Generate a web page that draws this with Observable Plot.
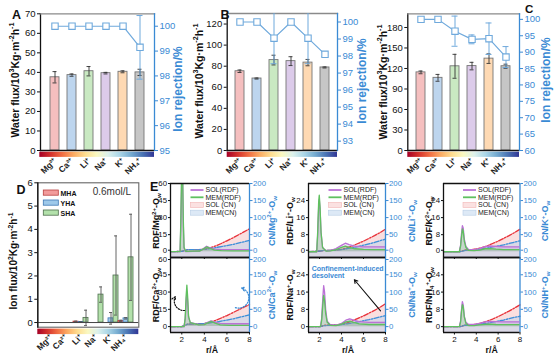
<!DOCTYPE html>
<html><head><meta charset="utf-8">
<script src="https://cdn.jsdelivr.net/npm/d3@7"></script>
<script src="https://cdn.jsdelivr.net/npm/@observablehq/plot@0.6"></script>
<style>
html,body{margin:0;padding:0;background:#fff;}
#root{position:relative;width:554px;height:356px;overflow:hidden;background:#fff;}
#root svg{position:absolute;max-width:none;}
</style></head><body><div id="root"></div>
<script>
// ---------------- data ----------------
const ions = ["Mg²⁺","Ca²⁺","Li⁺","Na⁺","K⁺","NH₄⁺"];
// panel A
const fluxA = [37.5, 38.6, 40.6, 39.6, 40.3, 40.0];
const fluxErrA = [2.9, 0.6, 2.4, 0.4, 0.5, 1.6];
const rejA = [100, 100, 100, 100, 100, 99.15];
const rejErrA = [0, 0, 0, 0, 0, 1.28];
const leftTicksA = [0, 10, 20, 30, 40, 50, 60, 70];
const rightTicksA = [95, 96, 97, 98, 99, 100];
// panel B
const fluxB = [75.2, 68.3, 85.8, 84.8, 83.4, 78.8];
const fluxErrB = [1.2, 0.5, 4.6, 4.2, 3.0, 0.5];
const rejB = [100, 100, 99.05, 100, 99.05, 98.1];
const rejErrB = [0, 0, 1.5, 0, 1.5, 0.12];
const leftTicksB = [0, 20, 40, 60, 80, 100, 120];
const rightTicksB = [93, 94, 95, 96, 97, 98, 99, 100];
// panel C
const fluxC = [114.3, 106.3, 123.2, 123.5, 134.4, 123.3];
const fluxErrC = [2.0, 5.0, 17.5, 5.5, 7.0, 3.0];
const rejC = [100, 100, 96.4, 93.9, 94.1, 88.5];
const rejErrC = [0, 0, 4.6, 1.35, 4.8, 3.2];
const leftTicksC = [0, 30, 60, 90, 120, 150, 180];
const rightTicksC = [60, 65, 70, 75, 80, 85, 90, 95, 100];
// panel D
const fluxGroups = ["MHA", "YHA", "SHA"];
const ionFluxMHA = [0, 0, 0.04, 0, 0, 0.07];
const ionFluxErrMHA = [0, 0, 0.02, 0, 0, 0.03];
const ionFluxYHA = [0, 0, 0.02, 0, 0.18, 0.18];
const ionFluxErrYHA = [0, 0, 0.01, 0, 0.25, 0.03];
const ionFluxSHA = [0, 0, 0.2, 1.2, 2.02, 2.8];
const ionFluxErrSHA = [0, 0, 0.33, 0.33, 1.7, 1.85];
const ticksD = [0, 1, 2, 3, 4, 5, 6];
// panel E : RDF curves (r in Å)
const rdfR_Mg = [1, 1.85, 1.92, 1.98, 2.03, 2.08, 2.13, 2.2, 2.35, 3.0, 3.6, 3.9, 4.2, 4.5, 4.9, 5.5, 6.5, 8];
const rdfSol_Mg = [0, 0, 25, 58, 72, 60, 25, 3, 0, 0.2, 0.6, 2.5, 4.8, 3.5, 2.3, 1.9, 1.8, 1.8];
const rdfMem_Mg = [0, 0, 30, 66, 80, 66, 30, 4, 0.3, 0.5, 0.6, 2.3, 4.2, 3, 1.4, 0.9, 0.8, 0.8];
const rdfR_Ca = [1, 2.2, 2.3, 2.38, 2.45, 2.52, 2.6, 2.75, 3.0, 3.5, 4.0, 4.3, 4.6, 4.95, 5.4, 6.2, 7, 8];
const rdfSol_Ca = [0, 0, 6, 20, 30, 22, 8, 3.5, 3, 1.8, 2, 3.8, 5, 3.8, 2.8, 2.5, 2.5, 2.5];
const rdfMem_Ca = [0, 0, 7, 25, 36, 26, 9, 3.5, 2.8, 1.5, 1.8, 3.3, 4.5, 3, 1.6, 1.1, 1, 1];
const rdfR_Li = [1, 1.75, 1.84, 1.92, 1.98, 2.05, 2.14, 2.28, 2.6, 3.0, 3.5, 4.0, 4.35, 4.7, 5.2, 6, 7, 8];
const rdfSol_Li = [0, 0, 8, 20, 24.5, 20, 9, 2, 0.3, 0.5, 1.5, 3, 4, 3.3, 2.6, 2.3, 2.3, 2.3];
const rdfMem_Li = [0, 0, 10, 23, 26.5, 21, 9, 2, 0.3, 0.4, 1, 2, 2.6, 2.1, 1.4, 1.1, 1, 1];
const rdfR_Na = [1, 2.1, 2.2, 2.3, 2.38, 2.46, 2.56, 2.7, 3.0, 3.5, 4.0, 4.4, 4.75, 5.1, 5.6, 6.5, 7.3, 8];
const rdfSol_Na = [0, 0, 4, 13, 19, 16, 8, 2.5, 0.8, 0.6, 1.5, 3, 3.6, 3, 2.3, 2, 2, 2];
const rdfMem_Na = [0, 0, 3, 10, 14.5, 12, 6, 2, 0.6, 0.5, 1.2, 2.2, 2.6, 2, 1.3, 1, 1, 1];
const rdfR_K = [1, 2.45, 2.56, 2.65, 2.73, 2.81, 2.9, 3.05, 3.3, 3.8, 4.3, 4.8, 5.2, 5.8, 6.5, 7.2, 8];
const rdfSol_K = [0, 0, 3, 8.5, 12.2, 11, 6, 2.5, 1, 1, 1.5, 2.4, 2.7, 2.5, 2.3, 2.3, 2.3];
const rdfMem_K = [0, 0, 2.5, 7, 10.7, 9.5, 5, 2, 0.6, 0.5, 0.8, 1.4, 1.5, 1.2, 1, 1, 1];
const rdfR_NH4 = [1, 2.45, 2.56, 2.65, 2.73, 2.81, 2.9, 3.05, 3.3, 3.8, 4.3, 4.8, 5.2, 5.8, 6.5, 7.2, 8];
const rdfSol_NH4 = [0, 0, 2.5, 8, 11.6, 10, 5, 2, 1, 1, 1.5, 2.2, 2.4, 2.3, 2.2, 2.2, 2.2];
const rdfMem_NH4 = [0, 0, 2, 7, 10.2, 9, 4.5, 1.5, 0.5, 0.5, 0.8, 1.1, 1.2, 1, 0.9, 0.9, 0.9];
// panel E : coordination numbers
const cnR = [1, 2, 2.5, 3, 3.5, 4, 4.5, 5, 5.5, 6, 6.5, 7, 7.5, 8];
const cnSol_Mg = [0, 1, 6, 6, 6, 7, 11, 17, 24, 32, 40, 49, 58, 67];
const cnMem_Mg = [0, 1, 6, 6, 6, 7, 9, 12, 15, 18, 21, 25, 29, 33];
const cnSol_Ca = [0, 0, 7, 8, 8, 9, 12, 18, 25, 32, 40, 48, 56, 64];
const cnMem_Ca = [0, 0, 7, 8, 8, 9, 11, 13, 16, 19, 22, 26, 30, 34];
const cnSol_Li = [0, 2, 4, 4, 5, 7, 11, 17, 24, 31, 39, 47, 56, 66];
const cnMem_Li = [0, 2, 4, 4, 5, 6, 9, 12, 15, 19, 23, 27, 32, 37];
const cnSol_Na = [0, 0, 4, 5, 5, 7, 11, 17, 24, 31, 39, 47, 56, 66];
const cnMem_Na = [0, 0, 3, 4, 4, 6, 8, 11, 14, 17, 20, 24, 28, 32];
const cnSol_K = [0, 0, 0, 5, 6, 8, 12, 17, 24, 31, 39, 47, 56, 66];
const cnMem_K = [0, 0, 0, 4, 5, 6, 8, 11, 14, 17, 20, 24, 28, 32];
const cnSol_NH4 = [0, 0, 0, 4, 5, 7, 11, 16, 22, 29, 37, 45, 54, 63];
const cnMem_NH4 = [0, 0, 0, 4, 4, 6, 8, 10, 13, 16, 19, 23, 27, 30];
const cnTicks = [0, 50, 100, 150, 200];
const rTicks = [2, 4, 6, 8];
const rdfTicksBig = [0, 15, 30, 45, 60];
const rdfTicksSmall = [0, 8, 16, 24];

// ---------------- styles ----------------
const FONT = "'Liberation Sans', Arial, Helvetica, sans-serif";
const BLUE = "#3a8ad4";
const LBLUE = "#6fa9dc";
const fmtInt = d3.format("d");
const barFill = ["#f5bfbf", "#bdd5ee", "#c9e9c2", "#dccbea", "#fed9b3", "#c6c6c6"];
const groupFill = {MHA: "#f08a8a", YHA: "#8dbfe6", SHA: "#a6dc9c"};
const groupStroke = {MHA: "#b94040", YHA: "#3f78b4", SHA: "#4d6e4d"};
const C_SOLRDF = "#bb72d6", C_MEMRDF = "#5fc05f", C_SOLCN = "#e8323a", C_MEMCN = "#3f8fd8";
const F_SOL = "#f4b8b8", F_MEM = "#b9d2ee";
const svgStyle = `background:transparent;overflow:visible;max-width:none;font-family:${FONT};`;

const root = document.getElementById("root");
function place(svg, left, top) {
  svg.style.position = "absolute";
  svg.style.left = left + "px";
  svg.style.top = top + "px";
  root.appendChild(svg);
}

// ---------------- panels A-C ----------------
function fluxPanel(cfg) {
  const rows = ions.map((ion, i) => ({ion, v: cfg.flux[i], e: cfg.fluxErr[i], c: barFill[i]}));
  const rrows = ions.map((ion, i) => ({ion, v: cfg.rej[i], e: cfg.rejErr[i]}));
  const errRows = rrows.filter(d => d.e > 0);
  const dims = {width: cfg.w, height: cfg.h, marginLeft: cfg.ml, marginRight: cfg.mr, marginTop: cfg.mt, marginBottom: cfg.mb, style: svgStyle};
  const p1 = Plot.plot({...dims,
    x: {domain: ions, padding: 0.45, axis: null},
    y: {domain: [0, cfg.ymax], axis: null},
    marks: [
      Plot.barY(rows, {x: "ion", y: "v", fill: "c", stroke: "#757575", strokeWidth: 0.9}),
      Plot.ruleX(rows, {x: "ion", y1: d => d.v - d.e, y2: d => d.v + d.e, stroke: "#333", strokeWidth: 0.9}),
      Plot.tickY(rows, {x: "ion", y: d => d.v + d.e, stroke: "#333", strokeWidth: 0.9, insetLeft: 2.5, insetRight: 2.5}),
      Plot.tickY(rows, {x: "ion", y: d => d.v - d.e, stroke: "#333", strokeWidth: 0.9, insetLeft: 2.5, insetRight: 2.5}),
      Plot.ruleY([0], {stroke: "#111", strokeWidth: 1.3}),
      Plot.frame({anchor: "left", stroke: "#111", strokeWidth: 1.3}),
      Plot.frame({anchor: "top", stroke: "#8a8a8a", strokeWidth: 1.3}),
      Plot.axisY({ticks: cfg.lticks, tickFormat: fmtInt, tickSize: 3, tickPadding: 2, fontSize: 9.5, label: null, stroke: "#111", fill: "#111"}),
      Plot.axisX({tickRotate: -45, tickSize: 0, tickPadding: 9, fontSize: 8.5, fontWeight: "bold", label: null, fill: "#222"})
    ]});
  place(p1, cfg.left, cfg.top);
  const p2 = Plot.plot({...dims,
    x: {domain: ions, padding: 0.45, axis: null},
    y: {domain: cfg.rdom, axis: null},
    marks: [
      Plot.frame({anchor: "right", stroke: BLUE, strokeWidth: 1.3}),
      Plot.axisY({anchor: "right", ticks: cfg.rticks, tickFormat: fmtInt, tickSize: 3, tickPadding: 2, fontSize: 9.5, label: null, stroke: BLUE, fill: BLUE}),
      Plot.line(rrows, {x: "ion", y: "v", stroke: LBLUE, strokeWidth: 1.2, clip: true}),
      Plot.ruleX(errRows, {x: "ion", y1: d => d.v - d.e, y2: d => d.v + d.e, stroke: LBLUE, strokeWidth: 1, clip: true}),
      Plot.tickY(errRows, {x: "ion", y: d => d.v + d.e, stroke: LBLUE, strokeWidth: 1, insetLeft: 1.5, insetRight: 1.5, clip: true}),
      Plot.tickY(errRows, {x: "ion", y: d => d.v - d.e, stroke: LBLUE, strokeWidth: 1, insetLeft: 1.5, insetRight: 1.5, clip: true}),
      Plot.dot(rrows, {x: "ion", y: "v", symbol: "square", r: 3.6, fill: "white", stroke: LBLUE, strokeWidth: 1.1})
    ]});
  place(p2, cfg.left, cfg.top);
}

fluxPanel({left: 0, top: 0, w: 185, h: 185, ml: 40, mr: 31, mt: 13.3, mb: 35,
  flux: fluxA, fluxErr: fluxErrA, rej: rejA, rejErr: rejErrA, ymax: 70, lticks: leftTicksA, rdom: [95, 100.5], rticks: rightTicksA});
fluxPanel({left: 185, top: 0, w: 185, h: 185, ml: 41.7, mr: 33, mt: 13, mb: 35,
  flux: fluxB, fluxErr: fluxErrB, rej: rejB, rejErr: rejErrB, ymax: 130, lticks: leftTicksB, rdom: [92.45, 100.5], rticks: rightTicksB});
fluxPanel({left: 370, top: 0, w: 184, h: 185, ml: 37.3, mr: 35, mt: 13.3, mb: 35,
  flux: fluxC, fluxErr: fluxErrC, rej: rejC, rejErr: rejErrC, ymax: 200, lticks: leftTicksC, rdom: [60, 101.7], rticks: rightTicksC});

// ---------------- panel D ----------------
{
  const series = [[ionFluxMHA, ionFluxErrMHA], [ionFluxYHA, ionFluxErrYHA], [ionFluxSHA, ionFluxErrSHA]];
  const dRows = [];
  ions.forEach((ion, i) => series.forEach(([vals, errs], g) =>
    dRows.push({key: ion + "|" + fluxGroups[g], ion, g: fluxGroups[g], v: vals[i], e: errs[i]})));
  const keys = dRows.map(d => d.key);
  const eRows = dRows.filter(d => d.e > 0);
  const pd = Plot.plot({width: 150, height: 181, marginLeft: 37.3, marginRight: 11.7, marginTop: 7.3, marginBottom: 29.3, style: svgStyle,
    x: {domain: keys, padding: 0.04, axis: null},
    y: {domain: [-0.2, 6], axis: null},
    marks: [
      Plot.barY(dRows.filter(d => d.v > 0), {x: "key", y: "v", fill: d => groupFill[d.g], stroke: d => groupStroke[d.g], strokeWidth: 0.8, fillOpacity: 0.85}),
      Plot.ruleX(eRows, {x: "key", y1: d => d.v - d.e, y2: d => d.v + d.e, stroke: "#555", strokeWidth: 0.9}),
      Plot.tickY(eRows, {x: "key", y: d => d.v + d.e, stroke: "#555", strokeWidth: 0.9, insetLeft: 1, insetRight: 1}),
      Plot.tickY(eRows, {x: "key", y: d => d.v - d.e, stroke: "#555", strokeWidth: 0.9, insetLeft: 1, insetRight: 1}),
      Plot.ruleY([0], {stroke: "#444", strokeWidth: 1}),
      Plot.frame({stroke: "#666", strokeWidth: 1.1}),
      Plot.frame({anchor: "left", stroke: "#111", strokeWidth: 1.3}),
      Plot.axisY({ticks: ticksD, tickFormat: fmtInt, tickSize: 3, tickPadding: 2, fontSize: 9.5, label: null, stroke: "#111", fill: "#111"}),
      Plot.axisX({ticks: ions.map(i => i + "|YHA"), tickFormat: d => d.split("|")[0], tickRotate: -45, tickSize: 0, tickPadding: 9,
        fontSize: 8.5, fontWeight: "bold", label: null, fill: "#222"})
    ]});
  place(pd, 0, 175);
}

// ---------------- panel E ----------------
const eCols = [[170, 249], [308, 385], [442.5, 519]];
const eRowsY = [[183, 257], [257, 332]];
const eSpecs = [
  {r: rdfR_Mg, sol: rdfSol_Mg, mem: rdfMem_Mg, cs: cnSol_Mg, cm: cnMem_Mg, col: 0, row: 0, dom: [-5.1, 60], ticks: rdfTicksBig},
  {r: rdfR_Li, sol: rdfSol_Li, mem: rdfMem_Li, cs: cnSol_Li, cm: cnMem_Li, col: 1, row: 0, dom: [-2.7, 32], ticks: rdfTicksSmall},
  {r: rdfR_K, sol: rdfSol_K, mem: rdfMem_K, cs: cnSol_K, cm: cnMem_K, col: 2, row: 0, dom: [-2.7, 32], ticks: rdfTicksSmall},
  {r: rdfR_Ca, sol: rdfSol_Ca, mem: rdfMem_Ca, cs: cnSol_Ca, cm: cnMem_Ca, col: 0, row: 1, dom: [-5.1, 60], ticks: rdfTicksBig, ca: true},
  {r: rdfR_Na, sol: rdfSol_Na, mem: rdfMem_Na, cs: cnSol_Na, cm: cnMem_Na, col: 1, row: 1, dom: [-2.7, 32], ticks: rdfTicksSmall, na: true},
  {r: rdfR_NH4, sol: rdfSol_NH4, mem: rdfMem_NH4, cs: cnSol_NH4, cm: cnMem_NH4, col: 2, row: 1, dom: [-2.7, 32], ticks: rdfTicksSmall}
];
const CN_DOM = [-17, 200];
// y axis split so that the label sitting on a shared panel edge is nudged off it
function splitAxisY(ticks, domTop, row, opts) {
  const edge = row === 0 ? ticks.filter(t => t === 0) : ticks.filter(t => t >= domTop);
  const rest = ticks.filter(t => !edge.includes(t));
  const marks = [Plot.axisY({...opts, ticks: rest})];
  if (edge.length) marks.push(Plot.axisY({...opts, ticks: edge, dy: row === 0 ? -1.5 : 2}));
  return marks;
}
for (const s of eSpecs) {
  const [x0, x1] = eCols[s.col], [y0, y1] = eRowsY[s.row];
  const ML = 20, MR = 26, MT = 5, MB = 16;
  const dims = {width: x1 - x0 + ML + MR, height: y1 - y0 + MT + MB, marginLeft: ML, marginRight: MR, marginTop: MT, marginBottom: MB, style: svgStyle};
  const cnSol = cnR.map((r, i) => ({r, v: s.cs[i]}));
  const cnMem = cnR.map((r, i) => ({r, v: s.cm[i]}));
  const cnMarks = [
    Plot.areaY(cnSol, {x: "r", y1: CN_DOM[0], y2: "v", fill: F_SOL, fillOpacity: 0.45}),
    Plot.areaY(cnMem, {x: "r", y1: CN_DOM[0], y2: "v", fill: F_MEM, fillOpacity: 0.5}),
    Plot.line(cnSol, {x: "r", y: "v", stroke: C_SOLCN, strokeWidth: 1.3, strokeDasharray: "5,1.5,1.5,1.5"}),
    Plot.line(cnMem, {x: "r", y: "v", stroke: C_MEMCN, strokeWidth: 1.3, strokeDasharray: "5,1.5,1.5,1.5"}),
    Plot.ruleX([8], {stroke: BLUE, strokeWidth: 1.3}),
    ...splitAxisY(cnTicks, CN_DOM[1], s.row, {anchor: "right", tickFormat: fmtInt, tickSize: 2.5, tickPadding: 1, fontSize: 7.8, label: null, stroke: BLUE, fill: BLUE})
  ];
  if (s.ca) {
    cnMarks.push(Plot.arrow([{x1: 6.75, y1: 55, x2: 7.3, y2: 112}], {x1: "x1", y1: "y1", x2: "x2", y2: "y2", bend: -90,
      stroke: BLUE, strokeWidth: 1.2, strokeDasharray: "1.2,1.5", headLength: 5}));
  }
  const pc = Plot.plot({...dims, x: {domain: [1, 8], axis: null}, y: {domain: CN_DOM, axis: null}, marks: cnMarks});
  place(pc, x0 - ML, y0 - MT);

  const sol = s.r.map((r, i) => ({r, v: s.sol[i]}));
  const mem = s.r.map((r, i) => ({r, v: s.mem[i]}));
  const rMarks = [
    Plot.areaY(sol, {x: "r", y: "v", fill: C_SOLRDF, fillOpacity: 0.22, clip: true}),
    Plot.areaY(mem, {x: "r", y: "v", fill: C_MEMRDF, fillOpacity: 0.28, clip: true}),
    Plot.line(sol, {x: "r", y: "v", stroke: C_SOLRDF, strokeWidth: 1.3, clip: true}),
    Plot.line(mem, {x: "r", y: "v", stroke: C_MEMRDF, strokeWidth: 1.3, clip: true}),
    Plot.ruleX([1], {stroke: "#111", strokeWidth: 1.3}),
    Plot.ruleY([s.dom[0]], {stroke: "#111", strokeWidth: 1.3}),
    Plot.ruleY([s.dom[1]], {stroke: "#111", strokeWidth: 1.3}),
    ...splitAxisY(s.ticks, s.dom[1], s.row, {tickFormat: fmtInt, tickSize: 2, tickPadding: 1.5, fontSize: 7.8, label: null, stroke: "#111", fill: "#111"}),
    s.row === 1
      ? Plot.axisX({ticks: rTicks, tickFormat: fmtInt, tickSize: 2.5, tickPadding: 1.5, fontSize: 8, label: null, stroke: "#111", fill: "#111"})
      : Plot.axisX({ticks: rTicks, tickSize: 2, tickFormat: () => "", label: null, stroke: "#111"})
  ];
  if (s.ca) {
    rMarks.push(Plot.arrow([{x1: 2.25, y1: 14, x2: 1.42, y2: 26}], {x1: "x1", y1: "y1", x2: "x2", y2: "y2", bend: 60,
      stroke: "#111", strokeWidth: 1.2, strokeDasharray: "1.2,1.5", headLength: 5}));
  }
  if (s.na) {
    rMarks.push(Plot.arrow([{x1: 7.55, y1: 7.3, x2: 5.17, y2: 21.7}], {x1: "x1", y1: "y1", x2: "x2", y2: "y2",
      stroke: "#111", strokeWidth: 1.1, headLength: 5}));
  }
  const pr = Plot.plot({...dims, x: {domain: [1, 8], axis: null}, y: {domain: s.dom, axis: null}, marks: rMarks});
  place(pr, x0 - ML, y0 - MT);
}

// ---------------- text overlay ----------------
const ov = d3.create("svg").attr("width", 554).attr("height", 356)
  .style("left", "0px").style("top", "0px").style("pointer-events", "none").style("overflow", "visible");
root.appendChild(ov.node());
const defs = ov.append("defs");
const grad = defs.append("linearGradient").attr("id", "cbar");
d3.range(0, 1.0001, 0.1).forEach(t => grad.append("stop").attr("offset", t).attr("stop-color", d3.interpolateRdYlBu(t)));
[[39.3, 151.7, 114.7, 5.2], [226.7, 151.7, 110.3, 5.2], [407.3, 151.7, 111.7, 5.2], [37.3, 328.6, 101, 5.5]]
  .forEach(([x, y, w, h]) => ov.append("rect").attr("x", x).attr("y", y).attr("width", w).attr("height", h).attr("fill", "url(#cbar)"));

function rich(x, y, parts, o = {}) {
  const size = o.size || 10, rot = o.rotate || 0;
  const t = ov.append("text")
    .attr("transform", rot ? `translate(${x + 0.35 * size},${y}) rotate(${rot})` : `translate(${x},${y})`)
    .attr("text-anchor", o.anchor || (rot ? "middle" : "start"))
    .attr("font-size", size).attr("font-weight", o.weight || "bold")
    .attr("fill", o.fill || "#111").attr("font-family", FONT);
  let shift = 0;
  for (const p of parts) {
    const [str, kind] = Array.isArray(p) ? p : [p, null];
    const target = kind === "sup" ? -0.4 * size : kind === "sub" ? 0.25 * size : 0;
    const ts = t.append("tspan").text(str).attr("dy", target - shift);
    if (kind) ts.attr("font-size", size * 0.68);
    shift = target;
  }
}
const waterLabel = ["Water flux/10", ["3", "sup"], "Kg·m", ["-2", "sup"], "h", ["-1", "sup"]];
rich(15, 80, waterLabel, {size: 10.5, rotate: -90});
rich(199, 81, waterLabel, {size: 10.5, rotate: -90});
rich(383, 82, waterLabel, {size: 10.5, rotate: -90});
rich(178, 89, ["Ion rejection/%"], {size: 12, rotate: -90, fill: BLUE});
rich(362, 81, ["Ion rejection/%"], {size: 12, rotate: -90, fill: BLUE});
rich(546, 80, ["Ion rejection/%"], {size: 12, rotate: -90, fill: BLUE});
rich(13, 261, ["Ion flux/10", ["2", "sup"], "Kg·m", ["-2", "sup"], "h", ["-1", "sup"]], {size: 10, rotate: -90});
// panel letters
rich(12, 18.5, ["A"], {size: 12.5});
rich(220.5, 18.5, ["B"], {size: 12.5});
rich(525, 12.5, ["C"], {size: 11.5});
rich(16.5, 194, ["D"], {size: 12.5});
rich(150, 191, ["E"], {size: 12.5});
// D legend
fluxGroups.forEach((g, i) => {
  ov.append("rect").attr("x", 43.3).attr("y", 190 + 10 * i).attr("width", 15).attr("height", 5.2)
    .attr("fill", groupFill[g]).attr("stroke", groupStroke[g]).attr("stroke-width", 0.8).attr("fill-opacity", 0.85);
  rich(60.5, 195.5 + 10 * i, [g], {size: 7});
});
rich(92.7, 195, ["0.6mol/L"], {size: 10, weight: "normal", fill: "#333"});
// E axis labels
const eRdfLabels = [
  [["RDF/Mg", ["2+", "sup"], "-O", ["w", "sub"]], 0, 0],
  [["RDF/Li", ["+", "sup"], "-O", ["w", "sub"]], 1, 0],
  [["RDF/K", ["2+", "sup"], "-O", ["w", "sub"]], 2, 0],
  [["RDF/Ca", ["2+", "sup"], "-O", ["w", "sub"]], 0, 1],
  [["RDF/Na", ["+", "sup"], "-O", ["w", "sub"]], 1, 1],
  [["RDF/NH", ["4", "sub"], ["+", "sup"], "-O", ["w", "sub"]], 2, 1]
];
const eCnLabels = [
  [["CN/Mg", ["2+", "sup"], "-O", ["w", "sub"]], 0, 0],
  [["CN/Li", ["+", "sup"], "-O", ["w", "sub"]], 1, 0],
  [["CN/K", ["+", "sup"], "-O", ["w", "sub"]], 2, 0],
  [["CN/Ca", ["2+", "sup"], "-O", ["w", "sub"]], 0, 1],
  [["CN/Na", ["+", "sup"], "-O", ["w", "sub"]], 1, 1],
  [["CN/NH", ["+", "sup"], "-O", ["w", "sub"]], 2, 1]
];
const rdfLabX = [156, 290, 429], cnLabX = [271.5, 411.5, 545], labY = [221, 295];
eRdfLabels.forEach(([parts, c, r]) => rich(rdfLabX[c], labY[r], parts, {size: 9, rotate: -90}));
eCnLabels.forEach(([parts, c, r]) => rich(cnLabX[c], labY[r], parts, {size: 9, rotate: -90, fill: BLUE}));
[212, 348, 491.7].forEach(x => rich(x, 353, ["r/Å"], {size: 8.8, anchor: "middle"}));
// E legends
eCols.forEach(([x0]) => {
  const lx = x0 + 20.5, ys = [190, 197.3, 205, 212.7];
  ov.append("line").attr("x1", lx).attr("x2", lx + 13).attr("y1", ys[0]).attr("y2", ys[0]).attr("stroke", C_SOLRDF).attr("stroke-width", 1.8);
  ov.append("line").attr("x1", lx).attr("x2", lx + 13).attr("y1", ys[1]).attr("y2", ys[1]).attr("stroke", C_MEMRDF).attr("stroke-width", 1.8);
  ov.append("rect").attr("x", lx).attr("y", ys[2] - 2.5).attr("width", 13).attr("height", 5).attr("fill", "#fbe1e1").attr("stroke", "#f2b5b5").attr("stroke-width", 0.6);
  ov.append("rect").attr("x", lx).attr("y", ys[3] - 2.5).attr("width", 13).attr("height", 5).attr("fill", "#dde9f6").attr("stroke", "#b7cde6").attr("stroke-width", 0.6);
  ["SOL(RDF)", "MEM(RDF)", "SOL (CN)", "MEM(CN)"].forEach((t, i) => rich(lx + 15, ys[i] + 2.4, [t], {size: 7, weight: "normal", fill: "#222"}));
});
rich(311.7, 270.5, ["Confinement-induced"], {size: 7, fill: BLUE});
rich(311.7, 278.2, ["desolvent"], {size: 7, fill: BLUE});
</script></body></html>
